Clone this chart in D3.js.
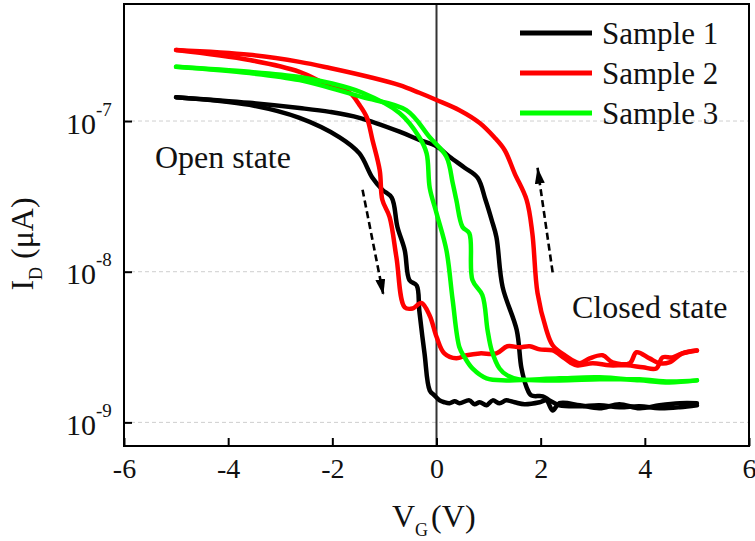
<!DOCTYPE html>
<html>
<head>
<meta charset="utf-8">
<script src="https://cdn.jsdelivr.net/npm/d3@7"></script>
<style>
  body { margin: 0; background: #fff; }
  text { font-family: "Liberation Serif", "Times New Roman", serif; fill: #111; }
</style>
</head>
<body>
<div id="chart"></div>
<script>
// transfer curves I_D(V_G), each sample swept -5 -> 5 V (fwd) and back 5 -> -5 V (rev)
const samples = ["Sample 1", "Sample 2", "Sample 3"]
const colors = ["#000000", "#ff0000", "#00ff00"]

const vRange = [-6, 6]
const iRange = [6.97e-10, 5.98e-7]
const xTicks = [-6, -4, -2, 0, 2, 4, 6]
const yTicks = [1e-9, 1e-8, 1e-7]

const sample1Fwd = [[-5,1.44e-7],[-3.59,1.28e-7],[-2.63,1.05e-7],[-1.86,7.8e-8],[-1.48,6.1e-8],[-1.23,4.2e-8],
  [-1.04,3.5e-8],[-0.86,3.1e-8],[-0.75,1.98e-8],[-0.61,1.39e-8],[-0.52,8.8e-9],[-0.38,8.1e-9],[-0.33,5.5e-9],
  [-0.23,2.87e-9],[-0.13,1.63e-9],[-0.04,1.51e-9],[0.06,1.40e-9],[0.15,1.36e-9],[0.25,1.34e-9],[0.35,1.38e-9],
  [0.44,1.34e-9],[0.63,1.40e-9],[0.73,1.32e-9],[0.83,1.36e-9],[0.96,1.30e-9],[1.08,1.40e-9],[1.21,1.34e-9],
  [1.34,1.40e-9],[1.50,1.36e-9],[1.69,1.32e-9],[1.98,1.36e-9],[2.11,1.40e-9],[2.23,1.20e-9],[2.36,1.34e-9],
  [2.75,1.30e-9],[3.13,1.24e-9],[3.51,1.32e-9],[3.90,1.24e-9],[4.28,1.30e-9],[4.67,1.34e-9],[5,1.34e-9]]
const sample1Rev = [[5,1.30e-9],[4.67,1.26e-9],[4.28,1.24e-9],[3.90,1.28e-9],[3.51,1.26e-9],[3.13,1.30e-9],
  [2.75,1.28e-9],[2.36,1.30e-9],[2.17,1.40e-9],[2.04,1.49e-9],[1.82,1.51e-9],[1.73,1.71e-9],[1.63,2.3e-9],
  [1.54,4.1e-9],[1.27,7.9e-9],[1.15,1.7e-8],[1.06,2.2e-8],[0.94,3.0e-8],[0.79,4.2e-8],[0.54,4.9e-8],[0.25,5.8e-8],
  [0,6.8e-8],[-0.33,7.5e-8],[-0.71,8.5e-8],[-1.48,1.05e-7],[-2.05,1.15e-7],[-2.63,1.22e-7],[-3.59,1.32e-7],[-5,1.44e-7]]

const sample2Fwd = [[-5,2.96e-7],[-3.59,2.54e-7],[-2.63,2.12e-7],[-2.05,1.71e-7],[-1.67,1.54e-7],[-1.48,1.28e-7],
  [-1.34,1.06e-7],[-1.23,7.5e-8],[-1.09,4.7e-8],[-1.04,3.0e-8],[-0.90,2.3e-8],[-0.77,1.25e-8],[-0.61,5.8e-9],
  [-0.46,5.7e-9],[-0.29,6.2e-9],[-0.13,5.1e-9],[0,3.7e-9],[0.15,2.87e-9],[0.38,2.66e-9],[0.58,2.79e-9],
  [0.83,2.87e-9],[1.15,2.87e-9],[1.36,3.2e-9],[1.59,3.15e-9],[1.79,3.2e-9],[1.98,3.05e-9],[2.23,3.0e-9],
  [2.46,2.66e-9],[2.69,2.39e-9],[3.00,2.47e-9],[3.32,2.39e-9],[3.65,2.39e-9],[3.96,2.32e-9],[4.22,2.28e-9],
  [4.34,2.70e-9],[4.53,2.70e-9],[4.72,2.87e-9],[5,3.0e-9]]
const sample2Rev = [[5,3.0e-9],[4.72,2.87e-9],[4.47,2.50e-9],[4.28,2.47e-9],[4.09,2.66e-9],[3.84,2.92e-9],
  [3.71,2.47e-9],[3.38,2.50e-9],[3.19,2.79e-9],[2.94,2.66e-9],[2.75,2.47e-9],[2.46,2.79e-9],[2.23,3.25e-9],
  [2.11,4.1e-9],[1.94,7.2e-9],[1.84,1.8e-8],[1.73,3.0e-8],[1.50,4.5e-8],[1.31,6.4e-8],[1.11,7.8e-8],[0.83,9.7e-8],
  [0.44,1.18e-7],[0,1.38e-7],[-0.33,1.54e-7],[-0.71,1.73e-7],[-1.29,1.96e-7],[-2.05,2.25e-7],[-2.63,2.47e-7],
  [-3.59,2.75e-7],[-5,2.96e-7]]

const sample3Fwd = [[-5,2.29e-7],[-3.59,2.12e-7],[-2.63,1.96e-7],[-2.05,1.79e-7],[-1.42,1.54e-7],[-0.71,1.13e-7],
  [-0.33,7.8e-8],[-0.19,6.1e-8],[-0.13,3.6e-8],[0,2.45e-8],[0.19,1.39e-8],[0.31,6.5e-9],[0.44,3.15e-9],
  [0.54,2.70e-9],[0.69,2.28e-9],[0.96,1.96e-9],[1.34,1.90e-9],[2.36,1.96e-9],[3.13,1.99e-9],[3.90,1.90e-9],
  [4.47,1.84e-9],[5,1.90e-9]]
const sample3Rev = [[5,1.90e-9],[4.47,1.87e-9],[3.90,1.93e-9],[3.13,1.93e-9],[2.36,1.90e-9],[1.59,1.93e-9],
  [1.36,2.05e-9],[1.21,2.28e-9],[1.06,3.0e-9],[0.98,4.1e-9],[0.88,7.0e-9],[0.69,8.8e-9],[0.63,1.8e-8],
  [0.50,1.98e-8],[0.38,3.0e-8],[0.31,3.9e-8],[0.19,5.8e-8],[-0.13,7.8e-8],[-0.58,1.18e-7],[-1.42,1.44e-7],
  [-2.05,1.66e-7],[-2.63,1.87e-7],[-3.59,2.08e-7],[-5,2.29e-7]]

const sweeps = [[sample1Fwd, sample1Rev], [sample2Fwd, sample2Rev], [sample3Fwd, sample3Rev]]

// sweep direction arrows: [start, tip]
const arrowDown = [[-1.42,3.5e-8],[-1.02,7.0e-9]]
const arrowUp = [[2.23,9.9e-9],[1.94,4.9e-8]]

const W = 755, H = 541
const plotL = 124, plotR = 749, plotT = 4, plotB = 446

const svg = d3.select("#chart").append("svg").attr("width", W).attr("height", H)

const x = d3.scaleLinear().domain(vRange).range([plotL, plotR])
const y = d3.scaleLog().domain(iRange).range([plotB, plotT])

// dashed decade grid
svg.append("g").selectAll("line").data(yTicks).enter().append("line")
  .attr("x1", plotL).attr("x2", plotR)
  .attr("y1", d => y(d)).attr("y2", d => y(d))
  .attr("stroke", "#cfcfcf").attr("stroke-width", 1).attr("stroke-dasharray", "4,3")

// V_G = 0 marker
svg.append("line")
  .attr("x1", x(0)).attr("x2", x(0)).attr("y1", plotT).attr("y2", plotB)
  .attr("stroke", "#333").attr("stroke-width", 2)

const line = d3.line()
  .x(d => x(d[0])).y(d => y(d[1]))
  .curve(d3.curveCatmullRom.alpha(0.5))

sweeps.forEach(function(pair, i) {
  pair.forEach(function(branch) {
    svg.append("path").datum(branch)
      .attr("d", line)
      .attr("fill", "none")
      .attr("stroke", colors[i])
      .attr("stroke-width", 4.5)
      .attr("stroke-linejoin", "round")
      .attr("stroke-linecap", "round")
  })
})

// arrows
svg.append("defs").append("marker")
  .attr("id", "head")
  .attr("viewBox", "0 0 10 10")
  .attr("refX", 10).attr("refY", 5)
  .attr("markerUnits", "userSpaceOnUse")
  .attr("markerWidth", 16).attr("markerHeight", 10)
  .attr("preserveAspectRatio", "none")
  .attr("orient", "auto")
  .append("path").attr("d", "M0,0 L10,5 L0,10 Z").attr("fill", "#000")

;[arrowDown, arrowUp].forEach(function(a) {
  svg.append("line")
    .attr("x1", x(a[0][0])).attr("y1", y(a[0][1]))
    .attr("x2", x(a[1][0])).attr("y2", y(a[1][1]))
    .attr("stroke", "#000").attr("stroke-width", 2.6)
    .attr("stroke-dasharray", "7,4")
    .attr("marker-end", "url(#head)")
})

// frame
svg.append("rect")
  .attr("x", plotL).attr("y", plotT).attr("width", plotR - plotL).attr("height", plotB - plotT)
  .attr("fill", "none").attr("stroke", "#000").attr("stroke-width", 2)

// x axis
const gx = svg.append("g").attr("transform", "translate(0," + plotB + ")")
  .call(d3.axisBottom(x).tickValues(xTicks).tickSize(-8).tickPadding(12).tickFormat(d => String(d)))
gx.select(".domain").remove()
gx.selectAll(".tick line").attr("stroke", "#000").attr("stroke-width", 2)
gx.selectAll(".tick text").attr("font-size", 28).attr("font-family", "Liberation Serif").attr("fill", "#111")

// y axis, labels as 10^n
const gy = svg.append("g").attr("transform", "translate(" + plotL + ",0)")
  .call(d3.axisLeft(y).tickValues(yTicks).tickSize(-8).tickFormat(""))
gy.select(".domain").remove()
gy.selectAll(".tick line").attr("stroke", "#000").attr("stroke-width", 2)
gy.selectAll(".tick").each(function(d) {
  const t = d3.select(this).append("text")
    .attr("x", 66 - plotL).attr("y", 12)
    .attr("text-anchor", "start")
    .attr("font-family", "Liberation Serif").attr("fill", "#111")
    .attr("font-size", 30)
  t.append("tspan").text("10")
  t.append("tspan").attr("font-size", 19).attr("dy", -18).text(String(Math.round(Math.log10(d))))
})

// axis titles
const xt = svg.append("text").attr("x", 392).attr("y", 527).attr("font-size", 32)
xt.append("tspan").text("V")
xt.append("tspan").attr("font-size", 18).attr("dy", 9).text("G")
xt.append("tspan").attr("dx", 3).attr("dy", -9).text("(V)")

const yt = svg.append("text").attr("transform", "translate(33,244) rotate(-90)")
  .attr("text-anchor", "middle").attr("font-size", 32)
yt.append("tspan").text("I")
yt.append("tspan").attr("font-size", 18).attr("dy", 9).text("D")
yt.append("tspan").attr("dy", -9).text(" (μA)")

// state labels
svg.append("text").attr("x", 155).attr("y", 168).attr("font-size", 32).text("Open state")
svg.append("text").attr("x", 572).attr("y", 318).attr("font-size", 32).text("Closed state")

// legend
const lg = svg.append("g").selectAll("g").data(samples).enter().append("g")
  .attr("transform", (d, i) => "translate(0," + (40 * i) + ")")
lg.append("line").attr("x1", 520).attr("x2", 592).attr("y1", 33).attr("y2", 33)
  .attr("stroke", (d, i) => colors[i]).attr("stroke-width", 5)
lg.append("text").attr("x", 602).attr("y", 44).attr("font-size", 31).text(d => d)
</script>
</body>
</html>
